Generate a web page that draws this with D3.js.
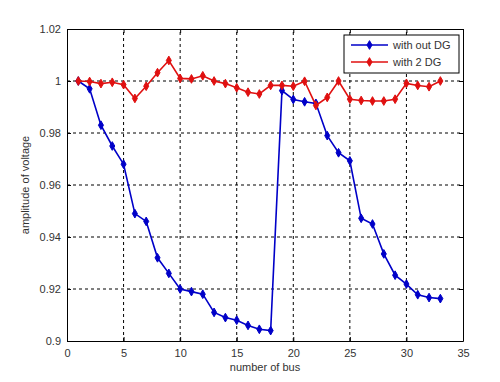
<!DOCTYPE html>
<head>
<meta charset="utf-8">
<style>
body { margin: 0; background: #fff; }
.tick text { font: 11px "Liberation Sans", Arial, sans-serif; fill: #333; }
.grid line { stroke: #000; stroke-dasharray: 3,3; stroke-width: 1; }
.lbl { font: 11px "Liberation Sans", Arial, sans-serif; fill: #333; }
</style>
</head>
<body>
<script src="https://cdn.jsdelivr.net/npm/d3@7"></script>
<script>

var width = 500, height = 382;
var margin = {left: 67, top: 29, right: 37, bottom: 41};

var xTicks = [0, 5, 10, 15, 20, 25, 30, 35];
var yTicks = [0.9, 0.92, 0.94, 0.96, 0.98, 1, 1.02];
var buses = d3.range(1, 34);
var seriesNames = ["with out DG", "with 2 DG"];
var withoutDG = [1.000, 0.997, 0.983, 0.975, 0.968, 0.949, 0.946, 0.932, 0.926, 0.920,
  0.919, 0.918, 0.911, 0.909, 0.908, 0.906, 0.9045, 0.904, 0.9963, 0.9929,
  0.992, 0.9914, 0.979, 0.9724, 0.9693, 0.9472, 0.945, 0.9335, 0.9253, 0.9219,
  0.9178, 0.9167, 0.9163];
var with2DG = [1.000, 0.9998, 0.999, 0.9995, 0.9986, 0.9933, 0.998, 1.0032, 1.0079, 1.001,
  1.0008, 1.002, 1.000, 0.999, 0.9974, 0.9957, 0.995, 0.9983, 0.9983, 0.998,
  0.9999, 0.9906, 0.9937, 1.000, 0.993, 0.9925, 0.9923, 0.9923, 0.993, 0.9991,
  0.9983, 0.9978, 1.000];
var colors = ["#0000c8", "#e01010"];

var svg = d3.select("body").append("svg")
  .attr("width", width).attr("height", height);

var x = d3.scaleLinear().domain([0, 35]).range([margin.left, width - margin.right]);
var y = d3.scaleLinear().domain([0.9, 1.02]).range([height - margin.bottom, margin.top]);

// grid
svg.append("g").attr("class", "grid")
  .selectAll("line").data(xTicks.slice(1, -1)).enter().append("line")
  .attr("x1", d => x(d)).attr("x2", d => x(d))
  .attr("y1", y(0.9)).attr("y2", y(1.02));
svg.append("g").attr("class", "grid")
  .selectAll("line").data(yTicks.slice(1, -1)).enter().append("line")
  .attr("y1", d => y(d)).attr("y2", d => y(d))
  .attr("x1", x(0)).attr("x2", x(35));

// axes
var xAxis = svg.append("g").attr("transform", "translate(0," + y(0.9) + ")")
  .call(d3.axisBottom(x).tickValues(xTicks).tickSizeInner(-4).tickSizeOuter(0).tickPadding(8).tickFormat(d3.format("d")));
var yAxis = svg.append("g").attr("transform", "translate(" + x(0) + ",0)")
  .call(d3.axisLeft(y).tickValues(yTicks).tickSizeInner(-4).tickSizeOuter(0).tickPadding(6).tickFormat(d => +d.toFixed(2)));
svg.append("g").attr("transform", "translate(0," + y(1.02) + ")")
  .call(d3.axisTop(x).tickValues(xTicks).tickSizeInner(-4).tickSizeOuter(0).tickFormat(""));
svg.append("g").attr("transform", "translate(" + x(35) + ",0)")
  .call(d3.axisRight(y).tickValues(yTicks).tickSizeInner(-4).tickSizeOuter(0).tickFormat(""));
svg.selectAll(".domain, .tick line").attr("stroke", "#000");

// series
var line = d3.line().x((d, i) => x(buses[i])).y(d => y(d));
var diamond = d3.symbol().type(d3.symbolDiamond).size(22);

[withoutDG, with2DG].forEach(function(vals, k) {
  svg.append("path").datum(vals)
    .attr("d", line).attr("fill", "none")
    .attr("stroke", colors[k]).attr("stroke-width", 1.6);
  svg.append("g").selectAll("path").data(vals).enter().append("path")
    .attr("d", diamond)
    .attr("transform", (d, i) => "translate(" + x(buses[i]) + "," + y(d) + ")")
    .attr("fill", colors[k]).attr("stroke", colors[k]);
});

// axis labels
svg.append("text").attr("class", "lbl")
  .attr("x", (x(0) + x(35)) / 2).attr("y", 371)
  .attr("text-anchor", "middle").text("number of bus");
svg.append("text").attr("class", "lbl")
  .attr("transform", "translate(29," + (y(0.96)) + ") rotate(-90)")
  .attr("text-anchor", "middle").text("amplitude of voltage");

// legend
var lg = svg.append("g").attr("transform", "translate(344,35)");
lg.append("rect").attr("width", 115).attr("height", 38)
  .attr("fill", "#fff").attr("stroke", "#000");
seriesNames.forEach(function(name, k) {
  var yy = 10 + k * 17;
  lg.append("line").attr("x1", 7).attr("x2", 44).attr("y1", yy).attr("y2", yy)
    .attr("stroke", colors[k]).attr("stroke-width", 1.6);
  lg.append("path").attr("d", diamond)
    .attr("transform", "translate(25.5," + yy + ")")
    .attr("fill", colors[k]).attr("stroke", colors[k]);
  lg.append("text").attr("class", "lbl")
    .attr("x", 49).attr("y", yy + 4).text(name);
});

</script>
</body>
